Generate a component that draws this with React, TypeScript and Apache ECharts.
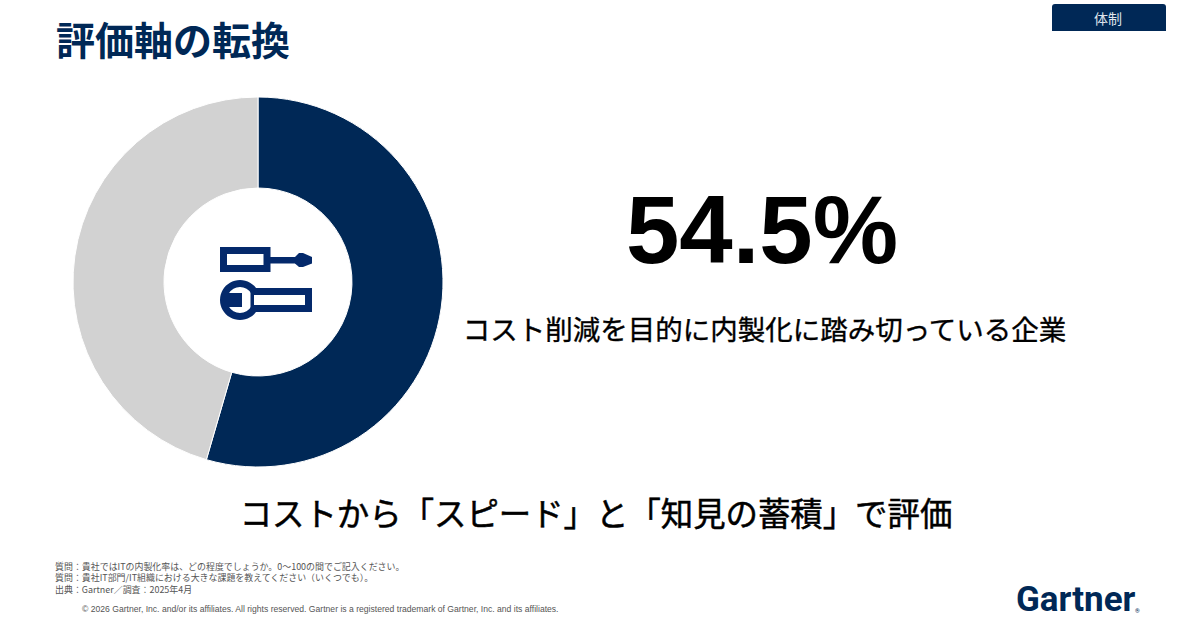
import React, { useEffect, useRef } from "react";
import * as echarts from "echarts";

const categories = ["コスト削減を目的に内製化に踏み切っている企業", "その他"];
const values = [54.5, 45.5];
const sliceColors = ["#002856", "#D2D2D2"];
const titleText = "評価軸の転換";
const tabText = "体制";
const bigText = "54.5%";
const subText = "コスト削減を目的に内製化に踏み切っている企業";
const bottomText = "コストから「スピード」と「知見の蓄積」で評価";
const notes = [
  "質問：貴社ではITの内製化率は、どの程度でしょうか。0～100の間でご記入ください。",
  "質問：貴社IT部門/IT組織における大きな課題を教えてください（いくつでも）。",
  "出典：Gartner／調査：2025年4月",
];
const copyright =
  "© 2026 Gartner, Inc. and/or its affiliates. All rights reserved. Gartner is a registered trademark of Gartner, Inc. and its affiliates.";
const NAVY = "#002856";
const ICON = "#04296B";
const JP = '"Noto Sans CJK JP", "Noto Sans", sans-serif';

export default function App() {
  const ref = useRef<HTMLDivElement>(null);
  useEffect(() => {
    document.body.style.margin = "0";
    const chart = echarts.init(ref.current!, undefined, { renderer: "svg" });
    chart.setOption({
      animation: false,
      backgroundColor: "#ffffff",
      title: {
        text: titleText,
        left: 51,
        top: 10,
        textStyle: { color: NAVY, fontFamily: JP, fontWeight: "bold", fontSize: 39, lineHeight: 46 },
      },
      series: [
        {
          type: "pie",
          center: [258, 282],
          radius: [94, 185],
          startAngle: 90,
          clockwise: true,
          silent: true,
          label: { show: false },
          labelLine: { show: false },
          itemStyle: { borderColor: "#ffffff", borderWidth: 1 },
          data: categories.map((name, i) => ({
            name,
            value: values[i],
            itemStyle: { color: sliceColors[i] },
          })),
        },
      ],
      graphic: [
        // tab
        { type: "rect", shape: { x: 1052, y: 4, width: 114, height: 27, r: [3, 3, 0, 0] }, style: { fill: NAVY } },
        { type: "text", x: 1108, y: 18, style: { text: tabText, fill: "#dfe4ec", font: `14px ${JP}`, textAlign: "center", textVerticalAlign: "middle" } },
        // screwdriver
        { type: "rect", shape: { x: 223.5, y: 250.5, width: 43.5, height: 18 }, style: { fill: "#fff", stroke: ICON, lineWidth: 7 } },
        { type: "rect", shape: { x: 270, y: 257, width: 26, height: 6.5 }, style: { fill: ICON } },
        { type: "polygon", shape: { points: [[295, 257], [299, 253], [303, 253], [312, 257], [312, 263.5], [303, 267], [299, 267], [295, 263.5]] }, style: { fill: ICON } },
        // wrench
        { type: "rect", shape: { x: 254, y: 291.5, width: 54.5, height: 17 }, style: { fill: "#fff", stroke: ICON, lineWidth: 7 } },
        { type: "ring", shape: { cx: 240, cy: 300, r: 20, r0: 13 }, style: { fill: ICON } },
        { type: "rect", shape: { x: 254, y: 295, width: 8, height: 10 }, style: { fill: "#fff" } },
        { type: "rect", shape: { x: 224, y: 293, width: 18, height: 14 }, style: { fill: ICON } },
        // big text
        { type: "text", x: 762, y: 229, style: { text: bigText, fill: "#000", font: 'bold 96px "Liberation Sans", Arial, sans-serif', textAlign: "center", textVerticalAlign: "middle" } },
        { type: "text", x: 764.5, y: 328, style: { text: subText, fill: "#000", stroke: "#000", lineWidth: 0.35, font: `27.5px ${JP}`, textAlign: "center", textVerticalAlign: "middle" } },
        { type: "text", x: 596, y: 511, style: { text: bottomText, fill: "#000", stroke: "#000", lineWidth: 0.5, font: `32.4px ${JP}`, textAlign: "center", textVerticalAlign: "middle" } },
        // notes
        ...notes.map((t, i) => ({
          type: "text",
          x: 55,
          y: 566 + i * 11.5,
          style: { text: t, fill: "#555", font: `8.95px ${JP}`, textVerticalAlign: "middle" },
        })),
        { type: "text", x: 82, y: 608.5, style: { text: copyright, fill: "#555", font: '8.6px "Liberation Sans", Arial, sans-serif', textVerticalAlign: "middle" } },
        // brand
        { type: "text", x: 1016, y: 599, style: { text: "Gartner", fill: NAVY, font: 'bold 35px Roboto, sans-serif', textVerticalAlign: "middle" } },
        { type: "text", x: 1135, y: 610, style: { text: "®", fill: NAVY, font: 'bold 6px Roboto, sans-serif', textVerticalAlign: "middle" } },
      ],
    });
    return () => chart.dispose();
  }, []);
  return <div ref={ref} style={{ width: 1200, height: 630 }} />;
}
